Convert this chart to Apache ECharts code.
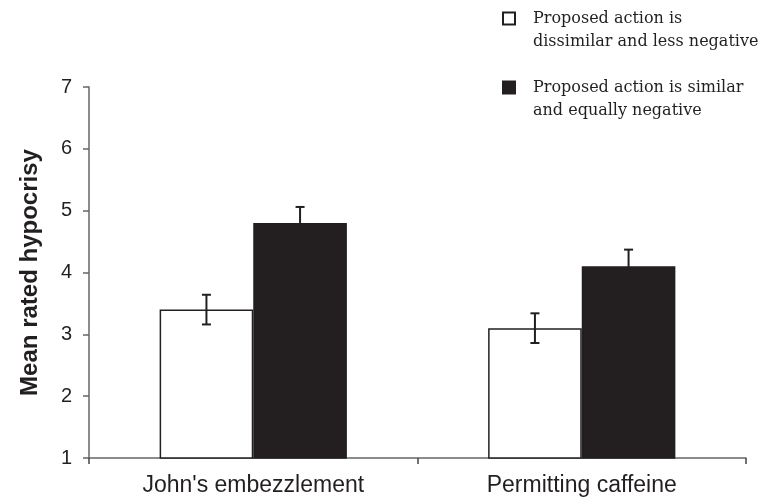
<!DOCTYPE html>
<html><head><meta charset="utf-8">
<script src="https://cdn.jsdelivr.net/npm/echarts@6/dist/echarts.min.js"></script>
<style>html,body{margin:0;padding:0;background:#fff}#c{width:764px;height:499px}</style>
</head><body><div id="c"></div>
<script>
var categories = ["John's embezzlement", "Permitting caffeine"];
var seriesNames = ["Proposed action is\ndissimilar and less negative", "Proposed action is similar\nand equally negative"];
var dissimilar = [3.4, 3.1];
var similar = [4.8, 4.1];
var dissimilarErr = [0.24, 0.24];
var similarErr = [0.26, 0.27];
var yTicks = [1, 2, 3, 4, 5, 6, 7];

var chart = echarts.init(document.getElementById('c'));
var BAR_FRAC = 0.285;

function errSeries(vals, errs, side, name) {
  return {
    type: 'custom',
    name: name + '_err',
    z: 10,
    silent: true,
    data: vals.map(function (v, i) { return [i, v, errs[i]]; }),
    renderItem: function (params, api) {
      var i = api.value(0), v = api.value(1), e = api.value(2);
      var band = api.size([1, 0])[0];
      var c = api.coord([i, v]);
      var x = c[0] + side * band * BAR_FRAC / 2;
      var top = api.coord([i, v + e])[1];
      var bot = api.coord([i, v - e])[1];
      var hw = 4.5;
      var st = { stroke: '#231f20', lineWidth: 2 };
      return { type: 'group', children: [
        { type: 'line', shape: { x1: x, y1: top, x2: x, y2: bot }, style: st },
        { type: 'line', shape: { x1: x - hw, y1: top, x2: x + hw, y2: top }, style: st },
        { type: 'line', shape: { x1: x - hw, y1: bot, x2: x + hw, y2: bot }, style: st }
      ]};
    }
  };
}

chart.setOption({
  animation: false,
  backgroundColor: '#fff',
  grid: { left: 89, right: 18, top: 87, bottom: 41, containLabel: false },
  legend: {
    orient: 'vertical',
    left: 497,
    top: -21,
    itemGap: 0,
    itemWidth: 12,
    itemHeight: 12,
    icon: 'rect',
    data: seriesNames,
    formatter: function (n) { return '\n' + n; },
    textStyle: { fontFamily: 'DejaVu Serif', fontSize: 16, color: '#231f20', lineHeight: 23, padding: [0, 0, 0, 13] }
  },
  xAxis: {
    type: 'category',
    data: categories,
    axisLine: { lineStyle: { color: '#666', width: 1.5 } },
    axisTick: { show: true, length: 6, lineStyle: { color: '#444', width: 1.5 } },
    axisLabel: { fontFamily: 'Liberation Sans', fontSize: 23, color: '#231f20', margin: 16 }
  },
  yAxis: {
    type: 'value',
    min: 1, max: 7, interval: 1,
    name: 'Mean rated hypocrisy',
    nameLocation: 'middle',
    nameGap: 47,
    nameTextStyle: { fontFamily: 'Liberation Sans', fontWeight: 'bold', fontSize: 24, color: '#231f20' },
    splitLine: { show: false },
    axisLine: { show: true, lineStyle: { color: '#666', width: 1.5 } },
    axisTick: { show: true, length: 6, lineStyle: { color: '#666', width: 1.5 } },
    axisLabel: { fontFamily: 'Liberation Sans', fontSize: 20, color: '#231f20', margin: 17,
      formatter: function (v) { return yTicks.indexOf(v) >= 0 ? String(v) : ''; } }
  },
  series: [
    { type: 'bar', name: seriesNames[0], data: dissimilar, barWidth: (BAR_FRAC * 100) + '%', barGap: '0%',
      itemStyle: { color: '#fff', borderColor: '#231f20', borderWidth: 1.5 } },
    { type: 'bar', name: seriesNames[1], data: similar, barWidth: (BAR_FRAC * 100) + '%', barGap: '0%',
      itemStyle: { color: '#231f20', borderColor: '#231f20', borderWidth: 1.5 } },
    errSeries(dissimilar, dissimilarErr, -1, 'a'),
    errSeries(similar, similarErr, 1, 'b')
  ]
});
</script></body></html>
